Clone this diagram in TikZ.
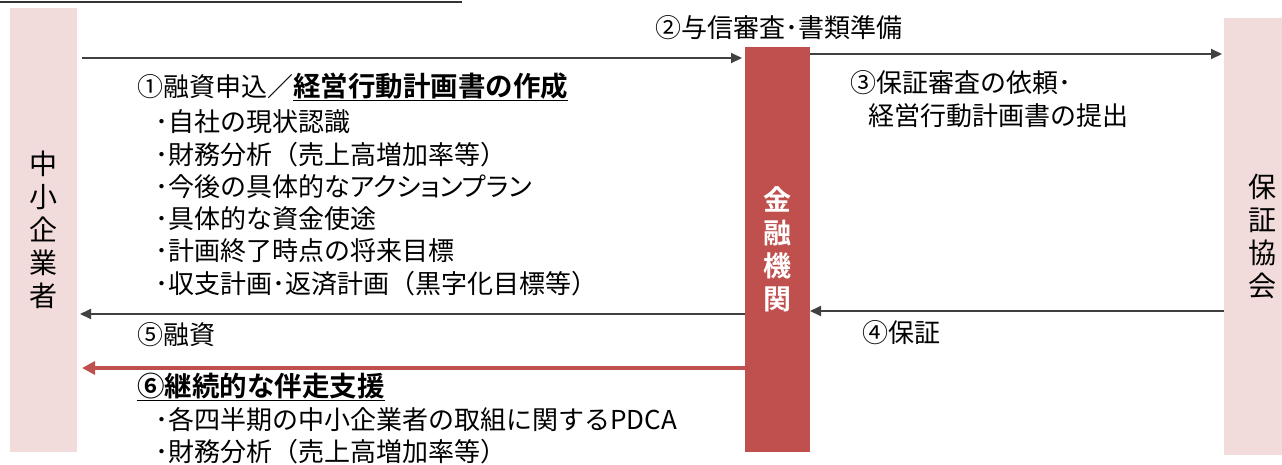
\documentclass[tikz,border=0pt]{standalone}
\usepackage{fontspec}
\setmainfont{Noto Sans CJK JP}[BoldFont={Noto Sans CJK JP Bold}]
\newfontfamily\paltfont{Noto Sans CJK JP}[RawFeature=+palt]
\usetikzlibrary{arrows.meta,calc}
\definecolor{pinkbox}{HTML}{F2DCDB}
\definecolor{bankred}{HTML}{C0504D}
\definecolor{linegray}{HTML}{404040}
\newcommand{\bigbold}[1]{{\fontsize{27.5}{30}\selectfont\bfseries\underline{#1}}}
\begin{document}
\begin{tikzpicture}[x=1pt,y=-1pt,
  box/.style={draw=none,inner sep=0,outer sep=0},
  arr/.style={draw=linegray,line width=2pt,-{Triangle[length=11pt,width=10pt]}},
  redarr/.style={draw=bankred,line width=3.5pt,-{Triangle[length=13pt,width=13pt]}},
  lbl/.style={anchor=west,inner sep=0,font=\fontsize{26}{30}\selectfont},
  vtext/.style={align=center,font=\fontsize{28}{33}\selectfont},
]
\useasboundingbox (0,0) rectangle (1282,464);
\draw[line width=1.5pt,black!80] (0,2) -- (462,2);
% actors
\node[box,fill=pinkbox,minimum width=67pt,minimum height=444pt,vtext] (sme) at (43.5,230) {中\\小\\企\\業\\者};
\node[box,fill=bankred,minimum width=65pt,minimum height=405pt,vtext,text=white,font=\bfseries\fontsize{28}{33}\selectfont] (bank) at (777.5,249.5) {金\\融\\機\\関};
\node[box,fill=pinkbox,minimum width=76pt,minimum height=437pt,vtext] (guar) at (1262,236) {保\\証\\協\\会};
% level coordinates
\coordinate (l2a) at (0,58);
\coordinate (l2b) at (0,54);
\coordinate (l4) at (0,311);
\coordinate (l5) at (0,314);
\coordinate (l6) at (0,368);
% connectors
\draw[arr,shorten <=5pt,shorten >=3pt] (sme.east |- l2a) -- (bank.west |- l2a);
\draw[arr,shorten >=2pt] (bank.east |- l2b) -- (guar.west |- l2b);
\draw[arr] (guar.west |- l4) -- (bank.east |- l4);
\draw[arr,shorten >=3pt] (bank.west |- l5) -- (sme.east |- l5);
\draw[redarr,shorten >=5pt] (bank.west |- l6) -- (sme.east |- l6);
% labels
\node[lbl] (t2) at (655,28) {②与信審査･書類準備};
\node[lbl] (t1) at (137,87) {①融資申込／\bigbold{経営行動計画書の作成}};
\node[lbl] (b1) at (155,122) {･自社の現状認識};
\node[lbl] (b2) at (155,155) {･財務分析（売上高増加率等）};
\node[lbl] (b3) at (155,187) {･今後の具体的な{\paltfont アクションプラン}};
\node[lbl] (b4) at (155,219) {･具体的な資金使途};
\node[lbl] (b5) at (155,251) {･計画終了時点の将来目標};
\node[lbl] (b6) at (155,284) {･収支計画･返済計画（黒字化目標等）};
\node[lbl] (t3a) at (850,83) {③保証審査の依頼･};
\node[lbl] (t3b) at (868,116) {経営行動計画書の提出};
\node[lbl] (t5) at (137,335) {⑤融資};
\node[lbl] (t4) at (862,333) {④保証};
\node[lbl] (t6) at (137,387) {\bigbold{⑥継続的な伴走支援}};
\node[lbl] (c1) at (155,420) {･各四半期の中小企業者の取組に関するPDCA};
\node[lbl] (c2) at (155,452) {･財務分析（売上高増加率等）};
\end{tikzpicture}
\end{document}
